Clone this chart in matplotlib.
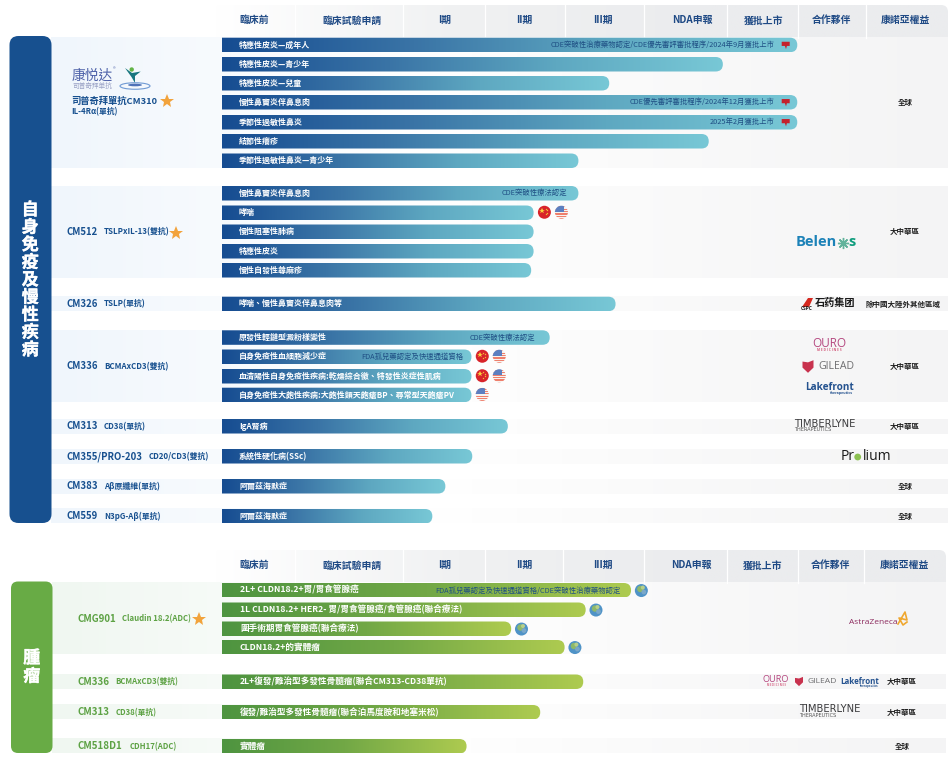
import numpy as np
import matplotlib
matplotlib.use('Agg')
import matplotlib.pyplot as plt
import matplotlib.patheffects as pe
from matplotlib.colors import LinearSegmentedColormap
from matplotlib.patches import FancyBboxPatch, Circle, Rectangle, Polygon, Ellipse, PathPatch
from matplotlib.path import Path

plt.rcParams['font.family'] = ['Noto Sans CJK TC', 'DejaVu Sans']

stages = ['臨床前', '臨床試驗申請', 'I期', 'II期', 'III期', 'NDA申報', '獲批上市', '合作夥伴', '康諾亞權益']

# progress is read in stage units: 2.5 means halfway through II期 (0 = left edge of 臨床前)
ad_labels = [
    ['特應性皮炎—成年人', '特應性皮炎—青少年', '特應性皮炎—兒童', '慢性鼻竇炎伴鼻息肉',
     '季節性過敏性鼻炎', '結節性癢疹', '季節性過敏性鼻炎—青少年'],
    ['慢性鼻竇炎伴鼻息肉', '哮喘', '慢性阻塞性肺病', '特應性皮炎', '慢性自發性蕁麻疹'],
    ['哮喘、慢性鼻竇炎伴鼻息肉等'],
    ['原發性輕鏈型澱粉樣變性', '自身免疫性血細胞減少症',
     '血清陽性自身免疫性疾病:乾燥綜合徵、特發性炎症性肌病',
     '自身免疫性大皰性疾病:大皰性類天皰瘡BP、尋常型天皰瘡PV'],
    ['IgA腎病'],
    ['系統性硬化病(SSc)'],
    ['阿爾茲海默症'],
    ['阿爾茲海默症'],
]
ad_progress = [
    [6.99, 5.95, 4.56, 6.99, 6.99, 5.78, 4.17],
    [4.17, 3.61, 3.61, 3.61, 3.58],
    [4.64],
    [3.81, 2.84, 2.84, 2.84],
    [3.29],
    [2.85],
    [2.52],
    [2.36],
]
ad_notes = {
    (0, 0): 'CDE突破性治療藥物認定/CDE優先審評審批程序/2024年9月獲批上市',
    (0, 3): 'CDE優先審評審批程序/2024年12月獲批上市',
    (0, 4): '2025年2月獲批上市',
    (1, 0): 'CDE突破性療法認定',
    (3, 0): 'CDE突破性療法認定',
    (3, 1): 'FDA孤兒藥認定及快速通道資格',
}
ad_flags = {(1, 1): 'cn us', (3, 1): 'cn us', (3, 2): 'cn us', (3, 3): 'us'}
ad_rights = ['全球', '大中華區', '除中國大陸外其他區域', '大中華區', '大中華區', '', '全球', '全球']
ad_names = [None, ('CM512', 'TSLPxIL-13(雙抗)'), ('CM326', 'TSLP(單抗)'), ('CM336', 'BCMAxCD3(雙抗)'),
            ('CM313', 'CD38(單抗)'), ('CM355/PRO-203', 'CD20/CD3(雙抗)'), ('CM383', 'Aβ原纖維(單抗)'),
            ('CM559', 'N3pG-Aβ(單抗)')]

onc_labels = [
    ['2L+ CLDN18.2+胃/胃食管腺癌', '1L CLDN18.2+ HER2- 胃/胃食管腺癌/食管腺癌(聯合療法)',
     '圍手術期胃食管腺癌(聯合療法)', 'CLDN18.2+的實體瘤'],
    ['2L+復發/難治型多發性骨髓瘤(聯合CM313-CD38單抗)'],
    ['復發/難治型多發性骨髓瘤(聯合泊馬度胺和地塞米松)'],
    ['實體瘤'],
]
onc_progress = [[4.84, 4.28, 3.34, 4.02], [4.25], [3.71], [2.78]]
onc_names = [('CMG901', 'Claudin 18.2(ADC)'), ('CM336', 'BCMAxCD3(雙抗)'), ('CM313', 'CD38(單抗)'), ('CM518D1', 'CDH17(ADC)')]
onc_rights = ['', '大中華區', '大中華區', '全球']

NAVY = '#1f4a85'
BLUE = '#17508f'
GREEN = '#68ab45'
DKGREEN = '#5da244'
NOTE = '#1f4f84'

ad_cmap = LinearSegmentedColormap.from_list('ad', ['#164c91', '#3a74a6', '#5ea8c1', '#78c8d6'])
onc_cmap = LinearSegmentedColormap.from_list('onc', ['#4e9440', '#72a846', '#aecb50'])
ad_row = LinearSegmentedColormap.from_list('r', [(0, '#f0f6fc'), (0.2, '#f8fbfe'), (0.42, '#ffffff'), (0.62, '#fbfbfb'), (1, '#f4f4f5')])
onc_row = LinearSegmentedColormap.from_list('r', [(0, '#f0f7f1'), (0.2, '#f7fbf8'), (0.42, '#ffffff'), (0.62, '#fbfbfb'), (1, '#f4f4f5')])
head_cmap = LinearSegmentedColormap.from_list('h', ['#ffffff', '#f0f1f2', '#ebecee', '#ebecee'])

fig = plt.figure(figsize=(9.52, 7.65), dpi=100)
ax = fig.add_axes([0, 0, 1, 1])
ax.set_xlim(0, 952)
ax.set_ylim(765, 0)
ax.axis('off')


def grad(x0, x1, y0, y1, cmap, clip=None, z=2):
    im = ax.imshow(np.linspace(0, 1, 256).reshape(1, -1), cmap=cmap, extent=[x0, x1, y1, y0],
                   aspect='auto', zorder=z, interpolation='bilinear')
    if clip is not None:
        im.set_clip_path(clip)
    return im


def header(y0, y1, edges, centers):
    box = FancyBboxPatch((215, y0), edges[-1] - 215, y1 - y0 + 8, boxstyle='round,pad=0,rounding_size=7',
                         fc='none', ec='none')
    ax.add_patch(box)
    grad(215, edges[-1], y0, y1, head_cmap, box, z=1)
    for e in edges[1:-1]:
        ax.plot([e, e], [y0, y1], color='white', lw=0.9, zorder=1.5)
    for s, cx in zip(stages, centers):
        ax.text(cx, (y0 + y1) / 2 - 0.8, s, color=NAVY, fontsize=7.1, fontweight='bold', ha='center', va='center', zorder=3)


def bar(y0, y1, end, cmap, label, fs, lx):
    # square on the left, pill on the right
    r = (y1 - y0) / 2
    verts = [(221.5, y0), (end - r, y0), (end, y0), (end, y0 + r), (end, y1), (end - r, y1), (221.5, y1), (221.5, y0)]
    codes = [Path.MOVETO, Path.LINETO, Path.CURVE3, Path.CURVE3, Path.CURVE3, Path.CURVE3, Path.LINETO, Path.CLOSEPOLY]
    p = PathPatch(Path(verts, codes), fc='none', ec='none')
    ax.add_patch(p)
    grad(221.5, end, y0, y1, cmap, p)
    ax.text(lx, (y0 + y1) / 2, label, color='white', fontsize=fs, fontweight='bold', ha='left', va='center', zorder=4)


def flag_cn(x, y):
    ax.add_patch(Circle((x, y), 6.5, fc='#d8232a', ec='none', zorder=4))
    ax.plot([x - 2.3], [y - 1.5], marker='*', ms=4, color='#f7d13b', mew=0, zorder=5)
    for dx, dy in [(1.2, -3.6), (2.6, -1.8), (2.6, 0.5), (1.2, 2)]:
        ax.plot([x + dx], [y + dy], marker='*', ms=1.6, color='#f7d13b', mew=0, zorder=5)


def flag_us(x, y):
    c = Circle((x, y), 6.5, fc='#f6f3f0', ec='none', zorder=4)
    ax.add_patch(c)
    for k in np.arange(-6, 7, 2.4):
        s = ax.add_patch(Rectangle((x - 7, y + k), 14, 1.2, fc='#ef7f6c', ec='none', zorder=5))
        s.set_clip_path(c)
    u = ax.add_patch(Rectangle((x - 7, y - 7), 10, 6.4, fc='#5c7fc0', ec='none', zorder=5.5))
    u.set_clip_path(c)


def globe(x, y):
    c = Circle((x, y), 6.5, fc='#4f93c7', ec='none', zorder=4)
    ax.add_patch(c)
    for dx, dy, r, col in [(-1, -1.5, 3.2, '#8db86a'), (2.5, 1.5, 2.4, '#7aa7c9'), (1.5, -3, 2.0, '#b7cf8a')]:
        m = ax.add_patch(Circle((x + dx, y + dy), r, fc=col, ec='none', zorder=5))
        m.set_clip_path(c)


def red_mark(x, y):
    # small red pennant after the approval notes
    ax.add_patch(Polygon([(x - 4, y - 3.2), (x + 4, y - 3.2), (x + 4, y + 1), (x + 1.2, y + 1), (x + 0.3, y + 4.2),
                          (x - 0.8, y + 1), (x - 4, y + 1)], fc='#c4212c', ec='none', zorder=5))


def ouro(x, y, fs, sub):
    ax.text(x, y, 'OURO', color='#b54880', fontsize=fs, family='Open Sans', ha='center', va='center', zorder=4)
    ax.text(x, y + sub, 'M E D I C I N E S', color='#d45c7d', fontsize=fs * 0.28, fontweight='bold', family='Open Sans', ha='center', va='center', zorder=4)


def gilead(x, y, fs, s):
    ax.add_patch(Polygon([(x - s, y - s * 0.9), (x, y - s * 0.75), (x + s, y - s * 1.15), (x + s, y + s * 0.2), (x, y + s * 1.15), (x - s, y + s * 0.2)],
                         fc='#c8324e', ec='none', zorder=4))
    ax.text(x + s + 4.5, y, 'GILEAD', color='#6e6e70', fontsize=fs, family='Open Sans', ha='left', va='center', zorder=4)


def lake(x, y, fs):
    ax.text(x, y, 'Lakefront', color='#24528f', fontsize=fs, fontweight='bold', family='Open Sans', ha='center', va='center', zorder=4)
    ax.text(x + fs * 1.7, y + fs * 0.85, 'therapeutics', color='#24528f', fontsize=fs * 0.36, fontweight='bold', family='Open Sans', ha='center', va='center', zorder=4)


def timber(x, y, fs):
    ax.text(x, y, 'TIMBERLYNE', color='#3c3c3e', fontsize=fs, family='DejaVu Sans', ha='left', va='center', zorder=4)
    ax.text(x, y + 5.8, 'THERAPEUTICS', color='#555555', fontsize=fs * 0.5, family='DejaVu Sans', ha='left', va='center', zorder=4)


def stage_x(p, edges):
    return np.interp(p, np.arange(len(edges)), edges)


edges1 = [222, 295, 403, 484.5, 565, 644, 727, 798, 866, 948]
edges2 = [222, 295, 403, 484.5, 563, 644, 726.5, 798, 863.5, 946]
centers1 = [254, 351.7, 445, 524.7, 603, 692, 764, 832, 905]
centers2 = [254, 352, 445, 524.7, 602.7, 691, 763, 830.7, 904]
header(5, 37.5, edges1, centers1)
header(550, 582.5, edges2, centers2)

ad_tops = [[37.7, 57, 76, 95, 115, 134, 153.5], [186, 205.5, 224.5, 244, 263], [296.7],
           [330.3, 349.5, 369, 387.7], [419], [449], [479], [509]]
onc_tops = [[583, 602.5, 621.5, 640], [674.5], [705], [739]]
BH = 14.5

ax.add_patch(FancyBboxPatch((9.5, 36), 42, 487, boxstyle='round,pad=0,rounding_size=9', fc=BLUE, ec='none', zorder=3))
ax.add_patch(FancyBboxPatch((11, 581.5), 41.5, 171.5, boxstyle='round,pad=0,rounding_size=7', fc=GREEN, ec='none', zorder=3))
thick = [pe.withStroke(linewidth=0.25, foreground='white')]
for i, ch in enumerate('自身免疫及慢性疾病'):
    ax.text(30.2, 210 + i * 17.5, ch, color='white', fontsize=12.3, fontweight='bold', ha='center', va='center', zorder=4, path_effects=thick)
for i, ch in enumerate('腫瘤'):
    ax.text(31.8, 658 + i * 18.5, ch, color='white', fontsize=12.3, fontweight='bold', ha='center', va='center', zorder=4, path_effects=thick)

# ---- autoimmune block
for g, (labels, tops, prog) in enumerate(zip(ad_labels, ad_tops, ad_progress)):
    y0, y1 = tops[0], tops[-1] + BH
    grad(51, 948, y0, y1, ad_row, z=1)
    for r, (label, top, p) in enumerate(zip(labels, tops, prog)):
        end = stage_x(p, edges1)
        bar(top, top + BH, end, ad_cmap, label, 5.75, 239)
        mid = top + BH / 2
        note = ad_notes.get((g, r))
        if note:
            if g == 0:
                ax.text(775, mid, note, color=NOTE, fontsize=5.3, ha='right', va='center', zorder=5)
                red_mark(785.7, mid)
            else:
                off = 11 if g == 1 else (14.5 if r == 0 else 8)
                ax.text(end - off, mid, note, color=NOTE, fontsize=5.3, ha='right', va='center', zorder=5)
        flags = ad_flags.get((g, r))
        if flags:
            xf = end + 10.8
            for f in flags.split():
                (flag_cn if f == 'cn' else flag_us)(xf, mid - 0.5)
                xf += 17
    if ad_rights[g]:
        rx = 903 if g == 2 else 905
        ax.text(rx, (y0 + y1) / 2, ad_rights[g], color='#222222', fontsize=5.4, fontweight='bold', ha='center', va='center', zorder=4)
    if ad_names[g]:
        nm, tg = ad_names[g]
        xt = 104 if g != 5 else 149
        ax.text(66.5, (y0 + y1) / 2, nm, color=BLUE, fontsize=6.9, fontweight='bold', ha='left', va='center', zorder=4)
        ax.text(xt, (y0 + y1) / 2, tg, color=BLUE, fontsize=5.7, fontweight='bold', ha='left', va='center', zorder=4)

# CM310 brand block and stars
ax.text(72, 76, '康悦达', color='#4c60a8', fontsize=9.9, ha='left', va='center', zorder=4)
ax.text(113, 69.5, '®', color='#4c60a8', fontsize=4, ha='left', va='center', zorder=4)
ax.text(72, 86, '司普奇拜单抗', color='#9aa2c6', fontsize=4.8, ha='left', va='center', zorder=4)
ax.add_patch(Circle((131.7, 69.5), 2.2, fc='#62b446', ec='none', zorder=4))
ax.add_patch(Polygon([(125, 68), (132, 73), (140.7, 71.5), (135, 76), (135, 83), (131.5, 77)], fc='#17767f', ec='none', zorder=4))
ax.add_patch(Ellipse((135, 86), 30, 6.5, fc='none', ec='#6f9ad4', lw=0.8, zorder=4))
ax.add_patch(Ellipse((135, 85), 14, 2.6, fc='#4e72b8', ec='none', zorder=4))
ax.text(71.5, 101, '司普奇拜單抗CM310', color=BLUE, fontsize=6.7, fontweight='bold', ha='left', va='center', zorder=4)
ax.text(71.5, 112.2, 'IL-4Rα(單抗)', color=BLUE, fontsize=5.6, fontweight='bold', ha='left', va='center', zorder=4)
ax.plot([166.7], [101], marker='*', ms=10, color='#f2a33c', mew=0, zorder=4)
ax.plot([176], [232.5], marker='*', ms=10, color='#f2a33c', mew=0, zorder=4)

# partners
ax.text(837, 241.5, 'Belen', color='#1c82b8', fontsize=10.5, fontweight='bold', family='Open Sans', ha='right', va='center', zorder=4)
ax.plot([843], [242.5], marker=(8, 2, 0), ms=8, mew=1, color='#62b39b', zorder=4)
ax.text(848, 241.5, 's', color='#109d7e', fontsize=10.5, fontweight='bold', family='Open Sans', ha='left', va='center', zorder=4)
ax.add_patch(Polygon([(802, 307), (808, 298), (813, 298), (809, 307)], fc='#d5281f', ec='none', zorder=4))
ax.text(815, 303, '石药集团', color='#1a1a1a', fontsize=7.3, fontweight='bold', ha='left', va='center', zorder=4)
ax.text(800.5, 308.5, 'CSPC', color='#1a1a1a', fontsize=3.5, fontweight='bold', family='Open Sans', ha='left', va='center', zorder=4)

ouro(829, 343, 8.5, 7)
gilead(808, 366.5, 7.6, 5.5)
lake(829, 387, 7.2)
timber(794.2, 424, 7.2)
ax.text(841, 456.5, 'Pr', color='#1a1a1a', fontsize=10, family='Open Sans', ha='left', va='center', zorder=4)
ax.add_patch(Circle((857.7, 457), 3.4, fc='#8cc152', ec='none', zorder=4))
ax.text(863, 456.5, 'lium', color='#1a1a1a', fontsize=10, family='Open Sans', ha='left', va='center', zorder=4)

# ---- oncology block
onc_sub_x = [122.5, 115.5, 115.5, 129.5]
for g, (labels, tops, prog) in enumerate(zip(onc_labels, onc_tops, onc_progress)):
    y0, y1 = tops[0], tops[-1] + BH
    grad(52, 946, y0, y1, onc_row, z=1)
    for label, top, p in zip(labels, tops, prog):
        end = stage_x(p, edges2)
        bar(top, top + BH, end, onc_cmap, label, 6.2, 240)
        if g == 0:
            globe(end + 10.3, top + BH / 2 + 0.3)
    nm, tg = onc_names[g]
    ax.text(77.5, (y0 + y1) / 2, nm, color=DKGREEN, fontsize=7, fontweight='bold', ha='left', va='center', zorder=4)
    ax.text(onc_sub_x[g], (y0 + y1) / 2, tg, color=DKGREEN, fontsize=5.6, fontweight='bold', ha='left', va='center', zorder=4)
    if onc_rights[g]:
        ax.text(902, (y0 + y1) / 2, onc_rights[g], color='#222222', fontsize=5.4, fontweight='bold', ha='center', va='center', zorder=4)

ax.text(620.7, 590.5, 'FDA孤兒藥認定及快速通道資格/CDE突破性治療藥物認定', color=NOTE, fontsize=5.3, ha='right', va='center', zorder=5)
ax.plot([199], [619.3], marker='*', ms=10, color='#f2a33c', mew=0, zorder=4)

ax.text(873, 622, 'AstraZeneca', color='#8c2a5e', fontsize=6, family='Open Sans', ha='center', va='center', zorder=4)
ax.plot([898, 905, 907, 899, 903, 907], [624, 612, 620, 618, 625, 622], color='#efa72f', lw=1.2, zorder=4)
ouro(776, 680, 6.6, 5)
gilead(799, 681.5, 6.1, 4)
lake(859.5, 681, 5.7)
timber(799.5, 709.5, 7.2)

fig.savefig('out.png', dpi=100)
